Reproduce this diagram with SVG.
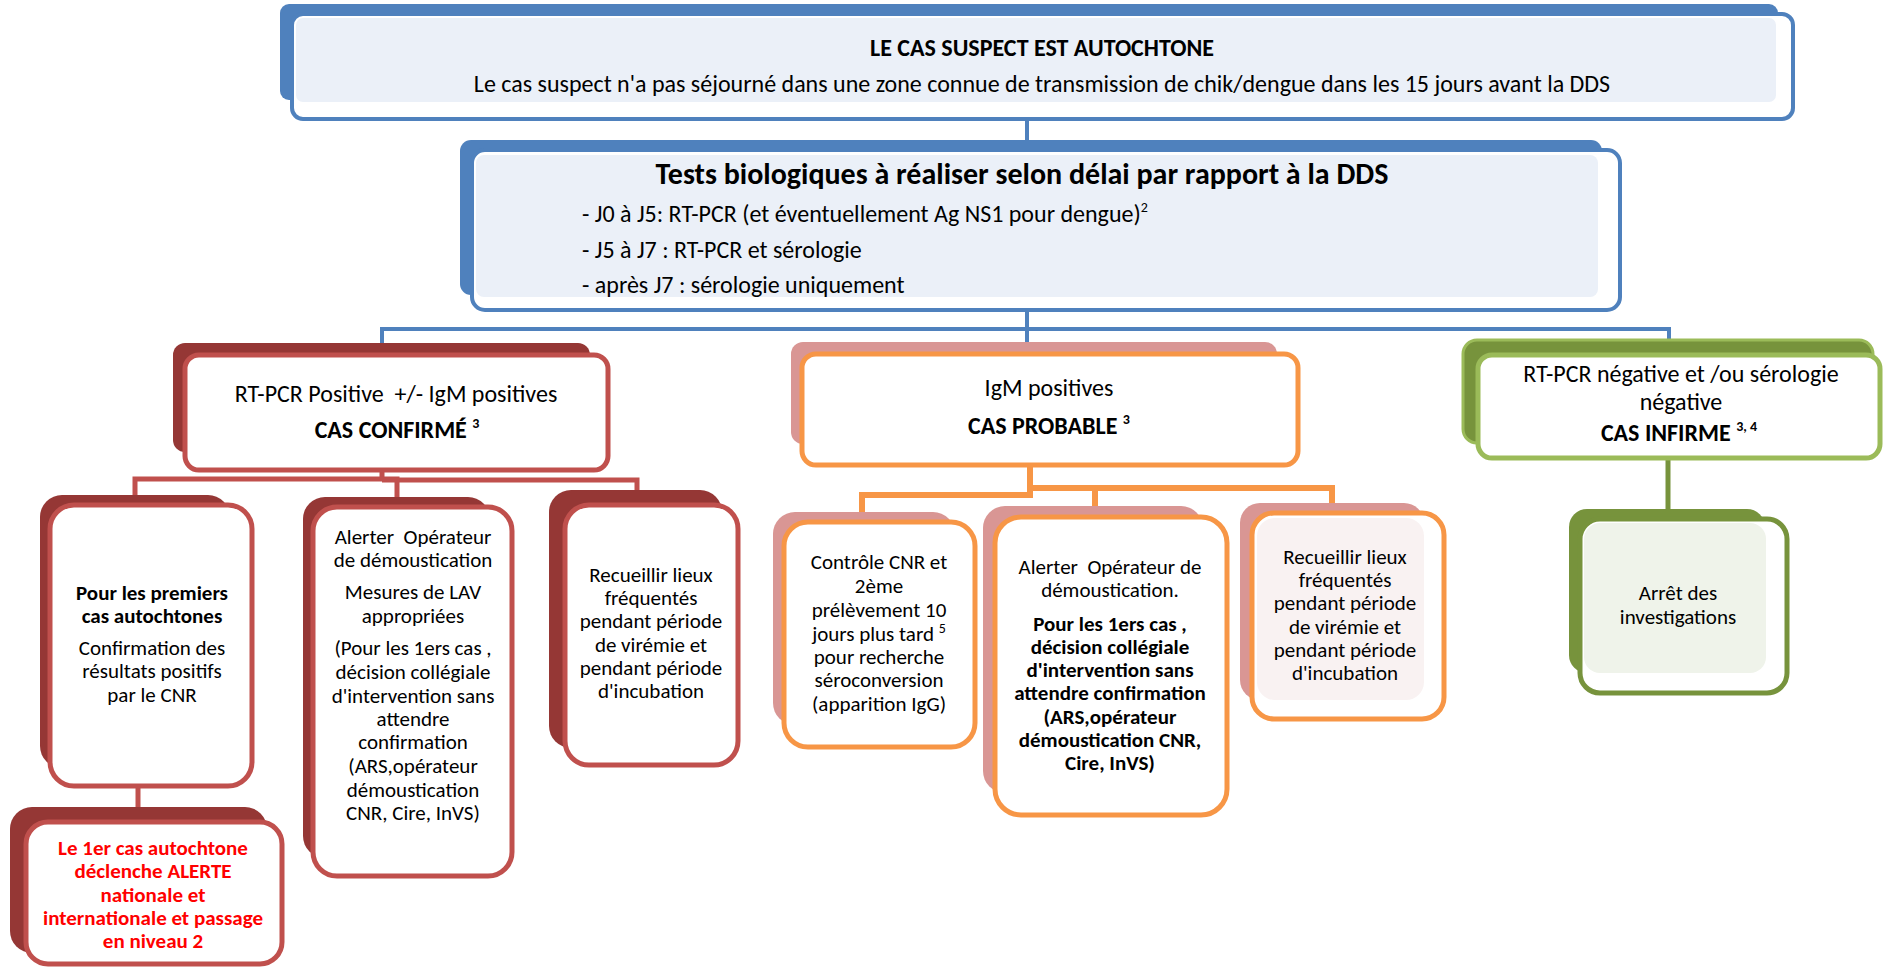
<svg xmlns="http://www.w3.org/2000/svg" width="1883" height="967" viewBox="0 0 1883 967">
<style>
text{font-family:Carlito,Lato,"Liberation Sans",sans-serif;fill:#000;}
.c{text-anchor:middle;}
.b{font-weight:bold;}
.f24{font-size:24px;}
.f30{font-size:30px;}
.f21{font-size:21px;}
.red{fill:#FF0000;}
.sup{font-size:14px;}
.bB{fill:#4F81BD;}
.bF{fill:#fff;stroke:#4F81BD;stroke-width:4;}
.bP{fill:#EBF0F8;}
.rB{fill:#953735;}
.rF{fill:#fff;stroke:#C0504D;stroke-width:5;}
.oB{fill:#D99694;}
.oF{fill:#fff;stroke:#F79646;stroke-width:5;}
.oP{fill:#F9F2F2;}
.gB{fill:#77933C;stroke:#9BBB59;stroke-width:3;}
.gB2{fill:#77933C;}
.gF{fill:#fff;stroke:#9BBB59;stroke-width:5;}
.gF2{fill:#fff;stroke:#77933C;stroke-width:5;}
.gP{fill:#EFF3EA;}
.cb{fill:none;stroke:#4F81BD;stroke-width:4;}
.cr{fill:none;stroke:#C0504D;stroke-width:5;}
.co{fill:none;stroke:#F79646;stroke-width:6;}
.cg{fill:none;stroke:#77933C;stroke-width:5;}
</style>
<rect width="1883" height="967" fill="#fff"/>
<g id="connectors">
<path class="cb" d="M1027 118 V152"/>
<path class="cb" d="M1027 310 V354"/>
<path class="cb" d="M382 329 H1669"/>
<path class="cb" d="M382 327 V344"/>
<path class="cb" d="M1669 327 V341"/>
<path class="cr" d="M382 468 V479 H135 V497"/>
<path class="cr" d="M382 479 H397 V498"/>
<path class="cr" d="M382 480 H637 V492"/>
<path class="cr" d="M138 784 V809"/>
<path class="co" d="M1030 463 V488 H1332 V514"/>
<path class="co" d="M1030 488 V495 H862 V513"/>
<path class="co" d="M1095 488 V507"/>
<path class="cg" d="M1668 456 V510"/>
</g>
<g id="n-autochtone">
<rect class="bB" x="280" y="4" width="1498" height="96" rx="9"/>
<rect class="bF" x="292" y="14" width="1501" height="105" rx="11"/>
<rect class="bP" x="296" y="18" width="1480" height="84" rx="7"/>
<text class="c b f24" x="1042" y="56">LE CAS SUSPECT EST AUTOCHTONE</text>
<text class="c f24" x="1042" y="92">Le cas suspect n'a pas séjourné dans une zone connue de transmission de chik/dengue dans les 15 jours avant la DDS</text>
</g>
<g id="n-tests">
<rect class="bB" x="460" y="140" width="1142" height="155" rx="11"/>
<rect class="bF" x="472" y="150" width="1148" height="160" rx="13"/>
<rect class="bP" x="476" y="155" width="1122" height="142" rx="8"/>
<text class="c b f30" x="1022" y="184">Tests biologiques à réaliser selon délai par rapport à la DDS</text>
<text class="f24" x="582" y="222">- J0 à J5: RT-PCR (et éventuellement Ag NS1 pour dengue)<tspan class="sup" dy="-10">2</tspan></text>
<text class="f24" x="582" y="258">- J5 à J7 : RT-PCR et sérologie</text>
<text class="f24" x="582" y="293">- après J7 : sérologie uniquement</text>
</g>
<g id="n-confirme">
<rect class="rB" x="173" y="343" width="417" height="109" rx="12"/>
<rect class="rF" x="185" y="355" width="423" height="115" rx="14"/>
<text class="c f24" x="396" y="402" xml:space="preserve">RT-PCR Positive  +/- IgM positives</text>
<text class="c b f24" x="397" y="438">CAS CONFIRMÉ <tspan class="sup" dy="-10">3</tspan></text>
</g>
<g id="n-probable">
<rect class="oB" x="791" y="342" width="486" height="102" rx="12"/>
<rect class="oF" x="802" y="354" width="496" height="111" rx="14"/>
<text class="c f24" x="1049" y="396">IgM positives</text>
<text class="c b f24" x="1049" y="434">CAS PROBABLE <tspan class="sup" dy="-10">3</tspan></text>
</g>
<g id="n-infirme">
<rect class="gB" x="1463" y="340" width="410" height="103" rx="14"/>
<rect class="gF" x="1478" y="355" width="402" height="103" rx="14"/>
<text class="c f24" x="1681" y="382">RT-PCR négative et /ou sérologie</text>
<text class="c f24" x="1681" y="410">négative</text>
<text class="c b f24" x="1679" y="441">CAS INFIRME <tspan class="sup" dy="-10">3, 4</tspan></text>
</g>
<g id="n-premiers">
<rect class="rB" x="40" y="495" width="190" height="273" rx="22"/>
<rect class="rF" x="50" y="505" width="202" height="281" rx="24"/>
<text class="c b f21" x="152" y="600">Pour les premiers</text>
<text class="c b f21" x="152" y="623">cas autochtones</text>
<text class="c f21" x="152" y="655">Confirmation des</text>
<text class="c f21" x="152" y="678">résultats positifs</text>
<text class="c f21" x="152" y="702">par le CNR</text>
</g>
<g id="n-alerte">
<rect class="rB" x="10" y="807" width="257" height="146" rx="22"/>
<rect class="rF" x="26" y="822" width="256" height="142" rx="22"/>
<text class="c b f21 red" x="153" y="855">Le 1er cas autochtone</text>
<text class="c b f21 red" x="153" y="878">déclenche ALERTE</text>
<text class="c b f21 red" x="153" y="902">nationale et</text>
<text class="c b f21 red" x="153" y="925">internationale et passage</text>
<text class="c b f21 red" x="153" y="948">en niveau 2</text>
</g>
<g id="n-lav">
<rect class="rB" x="303" y="497" width="187" height="361" rx="22"/>
<rect class="rF" x="313" y="507" width="199" height="369" rx="24"/>
<text class="c f21" x="413" y="544" xml:space="preserve">Alerter  Opérateur</text>
<text class="c f21" x="413" y="567">de démoustication</text>
<text class="c f21" x="413" y="599">Mesures de LAV</text>
<text class="c f21" x="413" y="623">appropriées</text>
<text class="c f21" x="413" y="655">(Pour les 1ers cas ,</text>
<text class="c f21" x="413" y="679">décision collégiale</text>
<text class="c f21" x="413" y="703">d'intervention sans</text>
<text class="c f21" x="413" y="726">attendre</text>
<text class="c f21" x="413" y="749">confirmation</text>
<text class="c f21" x="413" y="773">(ARS,opérateur</text>
<text class="c f21" x="413" y="797">démoustication</text>
<text class="c f21" x="413" y="820">CNR, Cire, InVS)</text>
</g>
<g id="n-lieux1">
<rect class="rB" x="549" y="490" width="173" height="258" rx="22"/>
<rect class="rF" x="565" y="505" width="173" height="260" rx="24"/>
<text class="c f21" x="651" y="582">Recueillir lieux</text>
<text class="c f21" x="651" y="605">fréquentés</text>
<text class="c f21" x="651" y="628">pendant période</text>
<text class="c f21" x="651" y="652">de virémie et</text>
<text class="c f21" x="651" y="675">pendant période</text>
<text class="c f21" x="651" y="698">d'incubation</text>
</g>
<g id="n-controle">
<rect class="oB" x="773" y="512" width="182" height="213" rx="22"/>
<rect class="oF" x="784" y="522" width="191" height="225" rx="24"/>
<text class="c f21" x="879" y="569">Contrôle CNR et</text>
<text class="c f21" x="879" y="593">2ème</text>
<text class="c f21" x="879" y="617">prélèvement 10</text>
<text class="c f21" x="879" y="641">jours plus tard <tspan class="sup" dy="-8">5</tspan></text>
<text class="c f21" x="879" y="664">pour recherche</text>
<text class="c f21" x="879" y="687">séroconversion</text>
<text class="c f21" x="879" y="711">(apparition IgG)</text>
</g>
<g id="n-operateur">
<rect class="oB" x="983" y="506" width="220" height="287" rx="22"/>
<rect class="oF" x="995" y="517" width="232" height="298" rx="26"/>
<text class="c f21" x="1110" y="574" xml:space="preserve">Alerter  Opérateur de</text>
<text class="c f21" x="1110" y="597">démoustication.</text>
<text class="c b f21" x="1110" y="631">Pour les 1ers cas ,</text>
<text class="c b f21" x="1110" y="654">décision collégiale</text>
<text class="c b f21" x="1110" y="677">d'intervention sans</text>
<text class="c b f21" x="1110" y="700">attendre confirmation</text>
<text class="c b f21" x="1110" y="724">(ARS,opérateur</text>
<text class="c b f21" x="1110" y="747">démoustication CNR,</text>
<text class="c b f21" x="1110" y="770">Cire, InVS)</text>
</g>
<g id="n-lieux2">
<rect class="oB" x="1240" y="503" width="184" height="197" rx="20"/>
<rect class="oF" x="1252" y="513" width="192" height="206" rx="22"/>
<rect class="oP" x="1257" y="518" width="167" height="182" rx="18"/>
<text class="c f21" x="1345" y="564">Recueillir lieux</text>
<text class="c f21" x="1345" y="587">fréquentés</text>
<text class="c f21" x="1345" y="610">pendant période</text>
<text class="c f21" x="1345" y="634">de virémie et</text>
<text class="c f21" x="1345" y="657">pendant période</text>
<text class="c f21" x="1345" y="680">d'incubation</text>
</g>
<g id="n-arret">
<rect class="gB2" x="1569" y="509" width="196" height="164" rx="18"/>
<rect class="gF2" x="1580" y="519" width="207" height="174" rx="20"/>
<rect class="gP" x="1584" y="523" width="182" height="150" rx="16"/>
<text class="c f21" x="1678" y="600">Arrêt des</text>
<text class="c f21" x="1678" y="624">investigations</text>
</g>
</svg>
